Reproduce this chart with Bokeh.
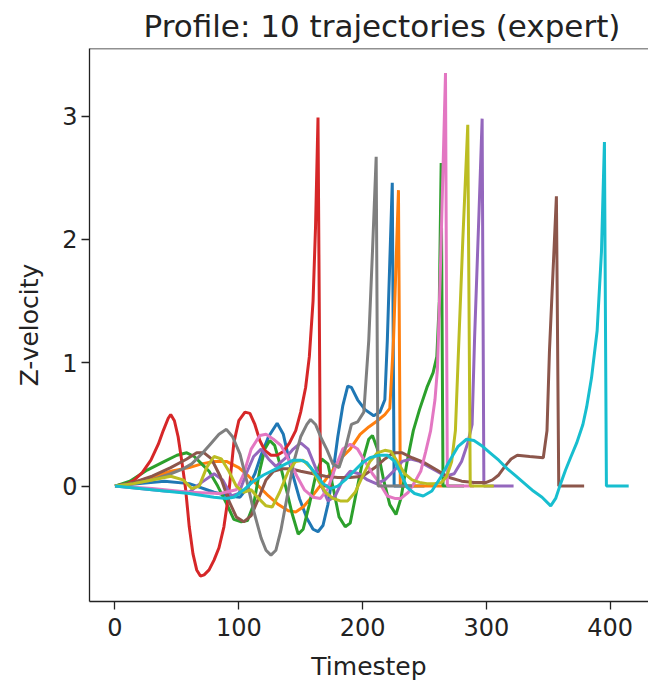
from bokeh.plotting import figure
from bokeh.models import Range1d, FixedTicker, Span
from bokeh.embed import file_html
from bokeh.resources import INLINE

# ---- data ----
x_ticks = [0, 100, 200, 300, 400]
y_ticks = [0, 1, 2, 3]

blue_t = [0, 20, 40, 60, 80, 92, 101, 108, 113, 118, 124, 131, 136, 142, 149, 155, 160, 164, 168, 172,
          176, 180, 184, 188, 191, 196, 202, 209, 214, 218, 220, 224, 225.5, 250]
blue_v = [0, 0.02, 0.04, 0.02, -0.05, -0.08, -0.09, 0.0, 0.1, 0.25, 0.4, 0.51, 0.42, 0.15, -0.1, -0.26,
          -0.35, -0.37, -0.32, -0.15, 0.1, 0.4, 0.65, 0.81, 0.8, 0.7, 0.62, 0.57, 0.6, 0.7, 1.18, 2.46, 0.0, 0.0]

orange_t = [0, 15, 30, 45, 60, 70, 80, 90, 100, 108, 116, 124, 132, 140, 146, 152, 158, 164, 170, 176,
            183, 190, 198, 205, 212, 218, 222, 225, 229, 230.5, 265]
orange_v = [0, 0.03, 0.07, 0.12, 0.15, 0.18, 0.2, 0.2, 0.15, 0.08, 0.0, -0.08, -0.15, -0.2, -0.21, -0.17,
            -0.1, -0.02, 0.05, 0.13, 0.23, 0.3, 0.42, 0.48, 0.53, 0.58, 0.63, 1.18, 2.40, 0.0, 0.0]

green_t = [0, 12, 26, 40, 50, 58, 64, 70, 76, 83, 90, 96, 102, 107, 112, 117, 121, 125, 129, 134,
           139, 143, 148, 152, 157, 162, 167, 172, 177, 181, 186, 190, 195, 200, 205, 208, 212, 217, 222, 227,
           231, 236, 241, 246, 252, 257, 260, 262, 263.5, 265, 282]
green_v = [0, 0.04, 0.13, 0.2, 0.25, 0.27, 0.24, 0.18, 0.12, 0.0, -0.14, -0.27, -0.29, -0.28, -0.15, 0.13,
           0.3, 0.37, 0.33, 0.15, -0.05, -0.22, -0.39, -0.35, -0.15, 0.08, 0.22, 0.18, -0.05, -0.25,
           -0.33, -0.3, -0.05, 0.2, 0.38, 0.41, 0.3, 0.05, -0.15, -0.23, -0.1, 0.2, 0.45, 0.62, 0.8, 0.92,
           1.05, 1.5, 2.62, 0.0, 0.0]

red_t = [0, 8, 15, 22, 29, 35, 39, 43, 45, 48, 51, 54, 57, 60, 63, 66, 69, 72, 76, 80,
         84, 88, 92, 96, 100, 105, 109, 113, 117, 121, 126, 131, 136, 141, 146, 150, 154, 157, 160, 162,
         164, 166, 175]
red_v = [0, 0.01, 0.045, 0.11, 0.21, 0.34, 0.45, 0.55, 0.58, 0.53, 0.4, 0.2, -0.02, -0.33, -0.55, -0.68,
         -0.73, -0.72, -0.68, -0.6, -0.5, -0.33, -0.05, 0.35, 0.53, 0.6, 0.59, 0.5, 0.37, 0.29, 0.25, 0.25,
         0.28, 0.35, 0.45, 0.6, 0.8, 1.05, 1.5, 2.1, 2.99, 0.0, 0.0]

purple_t = [0, 20, 40, 60, 70, 80, 87, 94, 100, 106, 112, 118, 124, 130, 137, 144, 150, 156, 162, 167,
            172, 178, 184, 190, 197, 204, 211, 218, 225, 232, 239, 246, 253, 260, 267, 274, 280, 285, 288.5,
            290.5, 294, 296.6, 298, 322]
purple_v = [0, -0.02, -0.04, -0.05, 0.03, 0.1, 0.05, -0.08, -0.06, 0.1, 0.24, 0.3, 0.22, 0.16, 0.22, 0.3,
            0.35, 0.3, 0.15, 0.0, -0.12, -0.08, 0.05, 0.12, 0.1, 0.05, 0.02, 0.05, 0.12, 0.2, 0.22, 0.2,
            0.16, 0.12, 0.08, 0.1, 0.2, 0.35, 0.5, 1.2, 2.2, 2.98, 0.0, 0.0]

brown_t = [0, 15, 30, 45, 58, 66, 72, 78, 85, 92, 98, 104, 110, 116, 122, 128, 135, 142, 150, 160,
           170, 180, 190, 200, 210, 218, 225, 232, 240, 250, 260, 270, 280, 290, 300, 305, 310, 315, 320, 325,
           335, 346, 349, 351, 356.6, 358.5, 379]
brown_v = [0, 0.03, 0.08, 0.15, 0.22, 0.27, 0.27, 0.22, 0.08, -0.12, -0.25, -0.29, -0.24, -0.1, 0.05, 0.12,
           0.14, 0.14, 0.12, 0.1, 0.08, 0.07, 0.07, 0.08, 0.15, 0.22, 0.27, 0.27, 0.23, 0.19, 0.13, 0.07,
           0.04, 0.03, 0.03, 0.05, 0.09, 0.16, 0.22, 0.25, 0.24, 0.23, 0.45, 1.1, 2.35, 0.0, 0.0]

pink_t = [0, 30, 60, 85, 98, 104, 110, 117, 122, 128, 134, 140, 147, 153, 160, 166, 172, 178, 184, 190,
          196, 202, 208, 214, 220, 226, 231, 237, 242, 247, 251, 255, 258.5, 260.5, 263, 267, 268.5, 290]
pink_v = [0, -0.02, -0.05, -0.06, -0.03, 0.1, 0.3, 0.41, 0.42, 0.38, 0.33, 0.22, 0.08, -0.03, -0.09, -0.1,
          -0.02, 0.15, 0.3, 0.34, 0.3, 0.2, 0.1, 0.02, -0.08, -0.1, -0.1, -0.05, 0.03, 0.12, 0.28, 0.45,
          0.7, 0.95, 1.8, 3.35, 0.0, 0.0]

gray_t = [0, 15, 30, 45, 55, 62, 70, 77, 84, 90, 95, 101, 107, 112, 118, 122, 126, 130, 134, 139,
          144, 150, 155, 158, 162, 167, 171, 176, 181, 186, 191, 196, 201, 205, 208, 211, 212.5, 240]
gray_v = [0, 0.02, 0.05, 0.1, 0.14, 0.18, 0.26, 0.34, 0.42, 0.46, 0.4, 0.26, 0.02, -0.2, -0.42, -0.52,
          -0.56, -0.52, -0.36, -0.09, 0.18, 0.4, 0.5, 0.54, 0.5, 0.38, 0.3, 0.18, 0.15, 0.3, 0.5, 0.52,
          0.6, 1.18, 1.9, 2.67, 0.0, 0.0]

olive_t = [0, 15, 30, 45, 55, 62, 68, 74, 80, 86, 92, 98, 104, 110, 116, 122, 127, 133, 140, 146,
           152, 158, 164, 170, 176, 182, 188, 194, 200, 206, 212, 218, 223, 228, 234, 240, 246, 252, 258, 264,
           268, 272, 275, 277.5, 281, 285, 287, 306]
olive_v = [0, 0.02, 0.05, 0.08, 0.05, -0.02, 0.0, 0.15, 0.24, 0.22, 0.12, 0.0, -0.05, -0.03, -0.1, -0.16,
           -0.17, -0.05, 0.12, 0.2, 0.21, 0.15, 0.05, -0.05, -0.1, -0.12, -0.12, -0.05, 0.08, 0.2, 0.27,
           0.29, 0.28, 0.2, 0.1, 0.05, 0.03, 0.02, 0.02, 0.03, 0.08, 0.2, 0.45, 1.1, 2.0, 2.93, 0.0, 0.0]

cyan_t = [0, 20, 40, 60, 80, 90, 96, 104, 112, 120, 128, 136, 144, 150, 155, 162, 168, 174, 180, 186,
          193, 200, 206, 213, 220, 226, 231, 236, 242, 249, 256, 263, 270, 277, 284, 290, 296, 303, 310, 317,
          324, 331, 338, 345, 352, 356, 360, 364, 368, 373, 378, 381, 385, 389.5, 393, 395.4, 397, 415]
cyan_v = [0, -0.02, -0.04, -0.06, -0.09, -0.1, -0.09, -0.03, 0.04, 0.09, 0.13, 0.17, 0.21, 0.21, 0.19,
          0.1, 0.02, -0.02, 0.0, 0.05, 0.12, 0.19, 0.23, 0.25, 0.25, 0.2, 0.1, -0.01, -0.06, -0.08, -0.04,
          0.07, 0.2, 0.32, 0.38, 0.37, 0.33, 0.27, 0.21, 0.14, 0.08, 0.02, -0.04, -0.09, -0.16, -0.1, 0.02,
          0.13, 0.23, 0.35, 0.5, 0.64, 0.88, 1.26, 1.9, 2.79, 0.0, 0.0]

series = [
    (blue_t, blue_v, "#1f77b4"),
    (orange_t, orange_v, "#ff7f0e"),
    (green_t, green_v, "#2ca02c"),
    (red_t, red_v, "#d62728"),
    (purple_t, purple_v, "#9467bd"),
    (brown_t, brown_v, "#8c564b"),
    (pink_t, pink_v, "#e377c2"),
    (gray_t, gray_v, "#7f7f7f"),
    (olive_t, olive_v, "#bcbd22"),
    (cyan_t, cyan_v, "#17becf"),
]

FONT = "DejaVu Sans"
INK = "#222222"

p = figure(width=648, height=684, output_backend="svg", toolbar_location=None,
           x_range=Range1d(-20.6, 431.0), y_range=Range1d(-0.936, 3.549),
           min_border_left=89, min_border_right=0, min_border_top=48, min_border_bottom=83,
           title="Profile: 10 trajectories (expert)")

for t, v, c in series:
    assert len(t) == len(v)
    p.line(t, v, line_color=c, line_width=3)

p.grid.visible = False
p.outline_line_color = None
p.background_fill_color = "white"
p.border_fill_color = "white"

p.title.align = "left"
p.title.offset = 54
p.title.standoff = 10
p.title.text_font = FONT
p.title.text_font_size = "31px"
p.title.text_font_style = "normal"
p.title.text_color = INK

p.xaxis.ticker = FixedTicker(ticks=x_ticks)
p.yaxis.ticker = FixedTicker(ticks=y_ticks)
p.xaxis.axis_label = "Timestep"
p.yaxis.axis_label = "Z-velocity"
for ax in (p.xaxis[0], p.yaxis[0]):
    ax.axis_label_text_font = FONT
    ax.axis_label_text_font_size = "25px"
    ax.axis_label_text_font_style = "normal"
    ax.axis_label_text_color = INK
    ax.major_label_text_font = FONT
    ax.major_label_text_font_size = "24px"
    ax.major_label_text_color = INK
    ax.major_tick_out = 8
    ax.major_tick_in = 0
    ax.major_tick_line_width = 1.3
    ax.major_tick_line_color = INK
    ax.minor_tick_line_color = None
    ax.axis_line_width = 1.3
    ax.axis_line_color = INK
p.xaxis.major_label_standoff = 8
p.yaxis.major_label_standoff = 4
p.xaxis.axis_label_standoff = 13
p.yaxis.axis_label_standoff = 15

p.add_layout(Span(location=3.549, dimension="width", line_color=INK, line_width=1.3))

open("out.html", "w").write(file_html(p, INLINE))
